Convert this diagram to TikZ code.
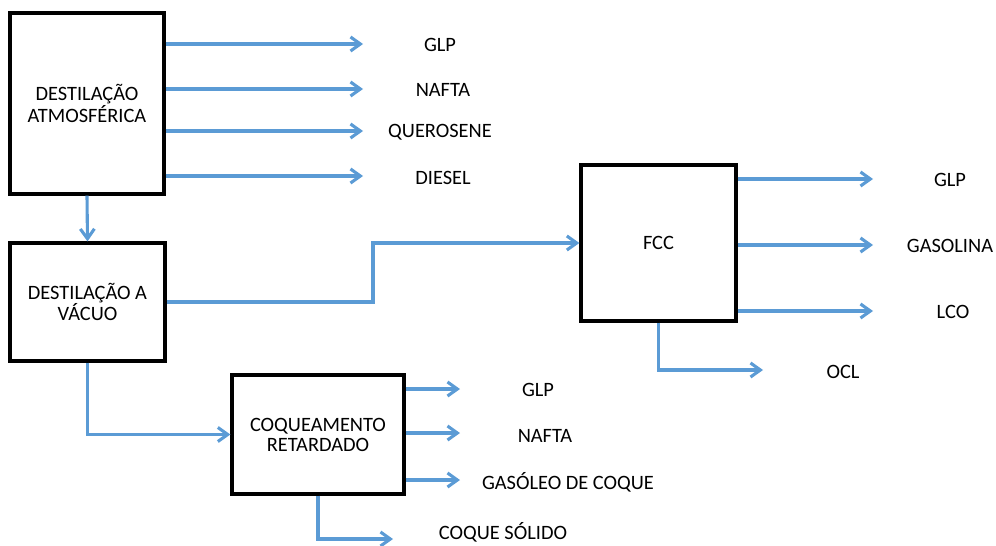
\documentclass[tikz,border=0pt]{standalone}
\usepackage{fontspec}
\setmainfont{Carlito}
\usetikzlibrary{arrows.meta, positioning}
\definecolor{flowblue}{RGB}{91,155,213}
\tikzset{
  unit/.style={draw=black, line width=2.3pt, align=center, inner sep=0pt},
  flow/.style={draw=flowblue, line width=2.2pt, -{Straight Barb[length=7pt,width=10pt]}},
}

\begin{document}
\begin{tikzpicture}[x=0.025cm, y=-0.025cm, font=\fontsize{14.5}{14.2}\selectfont]
    \useasboundingbox (0,0) rectangle (996,546);

    % unidades
    \node[unit, minimum width=3.85cm, minimum height=4.525cm] (atm) at (87,103.5) {DESTILAÇÃO\\ATMOSFÉRICA};
    \node[unit, minimum width=3.875cm, minimum height=2.95cm] (vac) at (87.5,302) {DESTILAÇÃO A\\VÁCUO};
    \node[unit, minimum width=3.875cm, minimum height=3.9cm] (fcc) at (658.5,243) {FCC};
    \node[unit, minimum width=4.3cm, minimum height=2.975cm] (coq) at (318,434.5) {COQUEAMENTO\\RETARDADO};

    % destilação atmosférica
    \coordinate (a1) at (363,44);
    \coordinate (a2) at (363,89);
    \coordinate (a3) at (363,131);
    \coordinate (a4) at (363,176);
    \node (glpa) at (440,45) {GLP};
    \node (naftaa) at (443,90) {NAFTA};
    \node (querosene) at (440,132) {QUEROSENE};
    \node (diesel) at (443,178) {DIESEL};
    \draw[flow] (atm.east |- a1) -- (a1);
    \draw[flow] (atm.east |- a2) -- (a2);
    \draw[flow] (atm.east |- a3) -- (a3);
    \draw[flow] (atm.east |- a4) -- (a4);
    \draw[flow] (atm.south) -- (vac.north);

    % destilação a vácuo
    \draw[flow] (vac.east) -- (373,302) |- (fcc.west);
    \draw[flow] (vac.south) |- (coq.west);

    % FCC
    \coordinate (f1) at (873,179);
    \coordinate (f2) at (873,245);
    \coordinate (f3) at (873,311);
    \coordinate (f4) at (763,370);
    \node (glpf) at (950,180) {GLP};
    \node (gasolina) at (950,246) {GASOLINA};
    \node (lco) at (953,312) {LCO};
    \node (ocl) at (843,372) {OCL};
    \draw[flow] (fcc.east |- f1) -- (f1);
    \draw[flow] (fcc.east |- f2) -- (f2);
    \draw[flow] (fcc.east |- f3) -- (f3);
    \draw[flow] (fcc.south) |- (f4);

    % coqueamento retardado
    \coordinate (c1) at (460,389);
    \coordinate (c2) at (460,433);
    \coordinate (c3) at (460,480);
    \coordinate (c4) at (393,539);
    \node (glpc) at (538,390) {GLP};
    \node (naftac) at (545,436) {NAFTA};
    \node (gasoleo) at (568,482) {GASÓLEO DE COQUE};
    \node[inner sep=1pt] (coque) at (503,532) {COQUE SÓLIDO};
    \draw[flow] (coq.east |- c1) -- (c1);
    \draw[flow] (coq.east |- c2) -- (c2);
    \draw[flow] (coq.east |- c3) -- (c3);
    \draw[flow] (coq.south) |- (c4);
\end{tikzpicture}
\end{document}
